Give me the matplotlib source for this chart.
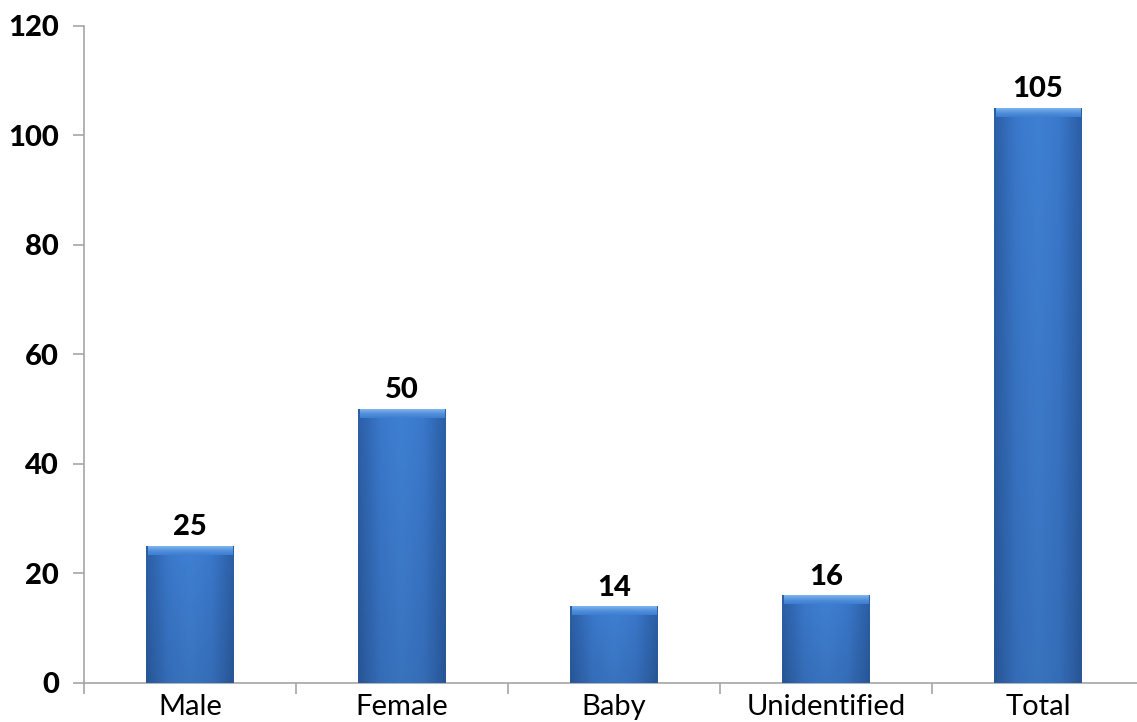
import numpy as np
import matplotlib.pyplot as plt
from matplotlib.colors import LinearSegmentedColormap

# Conteo por categoría
categorias = ["Male", "Female", "Baby", "Unidentified", "Total"]
valores = [25, 50, 14, 16, 105]
ticks_y = [0, 20, 40, 60, 80, 100, 120]

plt.rcParams["font.family"] = ["Lato", "DejaVu Sans"]

fig = plt.figure(figsize=(11.37, 7.22), dpi=100)
# el eje x sigue un poco más allá del borde derecho
ax = fig.add_axes([84 / 1137, 39.3 / 722, 1060 / 1137, 657 / 722])

x = np.arange(len(categorias))
barras = ax.bar(x, valores, width=0.415, color="#3c7acb", zorder=2)

# degradado tipo bisel: bordes laterales más oscuros, franja superior clara
cmap_h = LinearSegmentedColormap.from_list(
    "bisel", ["#2c5fa6", "#3a78cb", "#3f80d3", "#3a78cb", "#2c5fa6"])
cmap_top = LinearSegmentedColormap.from_list("f", ["#3f80d3", "#7fb4ee"])
for b in barras:
    x0, w, h = b.get_x(), b.get_width(), b.get_height()
    nx, ny = 60, 200
    cols = np.linspace(0, 1, nx)
    img = cmap_h(cols)[None, :, :3].repeat(ny, axis=0)
    # oscurecer hacia abajo ligeramente
    filas = np.linspace(0, 1, ny)[:, None, None]
    img = img * (0.9 + 0.1 * filas)
    im = ax.imshow(img, extent=[x0, x0 + w, 0, h], origin="lower",
                   aspect="auto", zorder=3, interpolation="bilinear")
    im.set_clip_path(b)
    # franja superior clara
    top = min(1.6, h * 0.3)
    franja = ax.imshow(np.linspace(0, 1, 20)[:, None] ** 1.5,
                       extent=[x0 + w * 0.02, x0 + w * 0.98, h - top, h],
                       origin="lower", aspect="auto", zorder=4,
                       interpolation="bilinear", cmap=cmap_top)
    franja.set_clip_path(b)
    ax.text(x0 + w / 2, h + 1.0, str(int(h)), ha="center", va="bottom",
            fontsize=21, fontweight="black", color="black", zorder=5)

ax.set_xlim(-0.5, len(categorias) - 0.5)
ax.set_ylim(0, 120)
ax.set_yticks(ticks_y)
ax.set_yticklabels([str(t) for t in ticks_y], fontsize=21, fontweight="black")
ax.set_xticks(x)
ax.set_xticklabels(categorias, fontsize=21)
ax.set_xticks(np.arange(-0.5, len(categorias), 1), minor=True)

ax.tick_params(axis="x", which="major", length=0, pad=8)
ax.tick_params(axis="x", which="minor", length=8, color="#a6a6a6", width=1.2)
ax.tick_params(axis="y", length=8, color="#a6a6a6", width=1.2, pad=10)

for lado in ["top", "right"]:
    ax.spines[lado].set_visible(False)
for lado in ["left", "bottom"]:
    ax.spines[lado].set_color("#a6a6a6")
    ax.spines[lado].set_linewidth(1.2)

plt.savefig("out.png", dpi=100)
